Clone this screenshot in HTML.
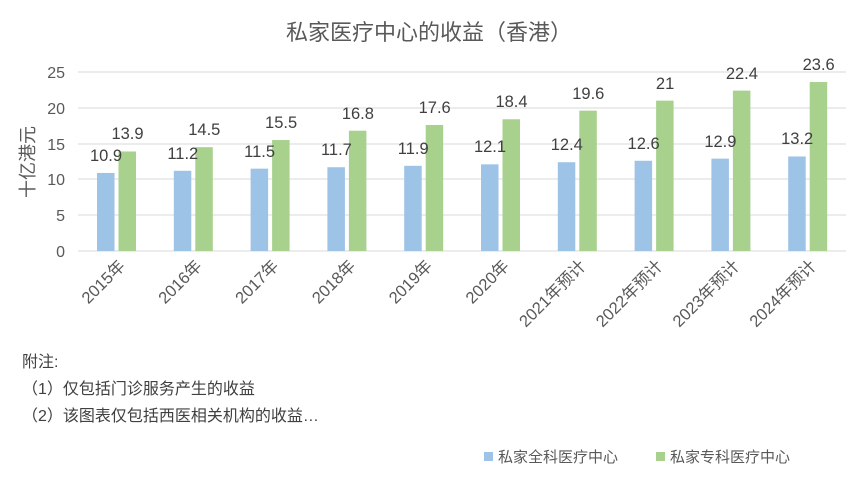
<!DOCTYPE html>
<html><head><meta charset="utf-8"><style>body{margin:0;background:#fff}svg{display:block}text{font-family:"Liberation Sans","Noto Sans CJK SC",sans-serif}</style></head><body>
<svg width="858" height="486" xmlns="http://www.w3.org/2000/svg">
<rect width="858" height="486" fill="#fff"/>
<text x="429" y="40" text-anchor="middle" font-size="22" fill="#595959">私家医疗中心的收益（香港）</text>
<g stroke="#d9d9d9" stroke-width="1">
<line x1="78" y1="72" x2="846" y2="72"/><line x1="78" y1="108" x2="846" y2="108"/><line x1="78" y1="144" x2="846" y2="144"/><line x1="78" y1="179" x2="846" y2="179"/><line x1="78" y1="215" x2="846" y2="215"/><line x1="78" y1="251" x2="846" y2="251"/>
</g>
<g font-size="16" fill="#595959" text-anchor="end">
<text x="65" y="78">25</text><text x="65" y="114">20</text><text x="65" y="150">15</text><text x="65" y="185">10</text><text x="65" y="221">5</text><text x="65" y="257">0</text>
</g>
<text transform="translate(34,162) rotate(-90)" text-anchor="middle" font-size="18" fill="#595959">十亿港元</text>
<g fill="#9dc3e6">
<rect x="97" y="172.96" width="17.5" height="78.04"/>
<rect x="173.8" y="170.81" width="17.5" height="80.19"/>
<rect x="250.6" y="168.66" width="17.5" height="82.34"/>
<rect x="327.4" y="167.23" width="17.5" height="83.77"/>
<rect x="404.2" y="165.8" width="17.5" height="85.2"/>
<rect x="481" y="164.36" width="17.5" height="86.64"/>
<rect x="557.8" y="162.22" width="17.5" height="88.78"/>
<rect x="634.6" y="160.78" width="17.5" height="90.22"/>
<rect x="711.4" y="158.64" width="17.5" height="92.36"/>
<rect x="788.2" y="156.49" width="17.5" height="94.51"/>
</g>
<g fill="#a9d18e">
<rect x="118.5" y="151.48" width="17.5" height="99.52"/>
<rect x="195.3" y="147.18" width="17.5" height="103.82"/>
<rect x="272.1" y="140.02" width="17.5" height="110.98"/>
<rect x="348.9" y="130.71" width="17.5" height="120.29"/>
<rect x="425.7" y="124.98" width="17.5" height="126.02"/>
<rect x="502.5" y="119.26" width="17.5" height="131.74"/>
<rect x="579.3" y="110.66" width="17.5" height="140.34"/>
<rect x="656.1" y="100.64" width="17.5" height="150.36"/>
<rect x="732.9" y="90.62" width="17.5" height="160.38"/>
<rect x="809.7" y="82.02" width="17.5" height="168.98"/>
</g>
<g font-size="16.5" fill="#404040" text-anchor="middle">
<text x="106" y="161">10.9</text><text x="182.8" y="159">11.2</text><text x="259.6" y="157">11.5</text><text x="336.4" y="155">11.7</text><text x="413.2" y="154">11.9</text><text x="490" y="152">12.1</text><text x="566.8" y="150">12.4</text><text x="643.6" y="149">12.6</text><text x="720.4" y="147">12.9</text><text x="797.2" y="144">13.2</text>
<text x="127.5" y="139">13.9</text><text x="204.3" y="135">14.5</text><text x="281.1" y="128">15.5</text><text x="357.9" y="119">16.8</text><text x="434.7" y="113">17.6</text><text x="511.5" y="107">18.4</text><text x="588.3" y="99">19.6</text><text x="665.1" y="89">21</text><text x="741.9" y="79">22.4</text><text x="818.7" y="70">23.6</text>
</g>
<g font-size="16.5" fill="#595959" text-anchor="end">
<text transform="translate(126,267) rotate(-45)">2015年</text>
<text transform="translate(202.8,267) rotate(-45)">2016年</text>
<text transform="translate(279.6,267) rotate(-45)">2017年</text>
<text transform="translate(356.4,267) rotate(-45)">2018年</text>
<text transform="translate(433.2,267) rotate(-45)">2019年</text>
<text transform="translate(510,267) rotate(-45)">2020年</text>
<text transform="translate(586.8,267) rotate(-45)">2021年预计</text>
<text transform="translate(663.6,267) rotate(-45)">2022年预计</text>
<text transform="translate(740.4,267) rotate(-45)">2023年预计</text>
<text transform="translate(817.2,267) rotate(-45)">2024年预计</text>
</g>
<g fill="#404040" font-size="16">
<text x="22" y="367">附注:</text>
<text x="22" y="394">（1）仅包括门诊服务产生的收益</text>
<text x="22" y="421">（2）该图表仅包括西医相关机构的收益…</text>
</g>
<rect x="484" y="452" width="9" height="9" fill="#9dc3e6"/>
<text x="498" y="462" font-size="15" fill="#595959">私家全科医疗中心</text>
<rect x="656" y="452" width="9" height="9" fill="#a9d18e"/>
<text x="670" y="462" font-size="15" fill="#595959">私家专科医疗中心</text>
</svg>
</body></html>
